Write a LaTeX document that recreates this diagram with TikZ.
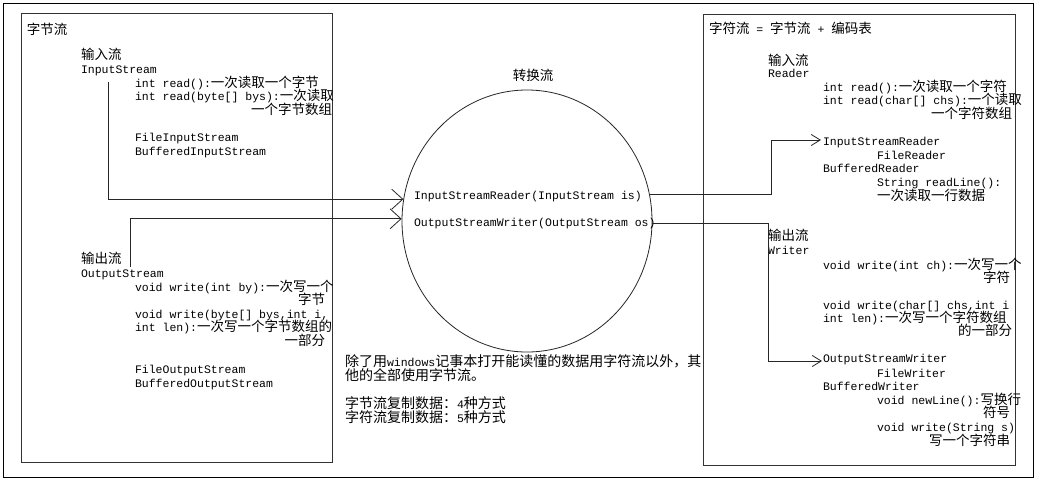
\documentclass[tikz,border=0pt]{standalone}
\usepackage{fontspec}
\setmainfont{Liberation Mono}
\newfontfamily\zhfont{Noto Sans CJK SC}
\usetikzlibrary{shapes.geometric,arrows.meta}
\newcommand\zhs[1]{{\zhfont\fontsize{13.5}{13.5}\selectfont #1}}
\newcommand\zhb[1]{{\zhfont\fontsize{14}{14}\selectfont #1}}
\tikzset{
  tl/.style={anchor=base west, inner sep=0pt, outer sep=0pt},
  tr/.style={anchor=base east, inner sep=0pt, outer sep=0pt},
  box/.style={draw=black!80, line width=0.8pt, anchor=north west, inner sep=0pt},
  conn/.style={draw=black!85, line width=0.8pt, -{Straight Barb[length=11pt,width=20pt,line width=0.8pt]}},
  connR/.style={draw=black!85, line width=0.8pt, -{Straight Barb[length=9pt,width=11pt,line width=0.8pt]}}
}
\begin{document}
\begin{tikzpicture}[x=1pt,y=-1pt,font=\fontsize{11.5}{13.5}\selectfont]
\useasboundingbox (0,0) rectangle (1037,482);
\fill[white] (0,0) rectangle (1037,482);
\draw[line width=1pt] (3,3) rectangle (1033,477);
% boxes
\node[box, minimum width=311pt, minimum height=449pt] (bytebox) at (21,13) {};
\node[box, minimum width=312pt, minimum height=451pt] (charbox) at (703,14) {};
\node[ellipse, draw=black!85, line width=0.8pt, minimum width=250pt, minimum height=262pt, inner sep=0pt] (conv) at (527,221) {};
% left box texts
\node[tl] (bt) at (27,34) {\zhs{字节流}};
\node[tl] (bin) at (81,59) {\zhs{输入流}};
\node[tl] (bis) at (81,73) {InputStream};
\node[tl] (br1) at (135,87) {int read():\zhs{一次读取一个字节}};
\node[tl] (br2) at (135,100.5) {int read(byte[] bys):\zhs{一次读取}};
\node[tr] (br3) at (332,114) {\zhs{一个字节数组}};
\node[tl] (bfis) at (135,141) {FileInputStream};
\node[tl] (bbis) at (135,155) {BufferedInputStream};
\node[tl] (bout) at (81,263) {\zhs{输出流}};
\node[tl] (bos) at (81,277) {OutputStream};
\node[tl] (bw1) at (135,291) {void write(int by):\zhs{一次写一个}};
\node[tr] (bw2) at (325,304.5) {\zhs{字节}};
\node[tl] (bw3) at (135,318) {void write(byte[] bys,int i,};
\node[tl] (bw4) at (135,331.5) {int len):\zhs{一次写一个字节数组的}};
\node[tr] (bw5) at (325,345) {\zhs{一部分}};
\node[tl] (bfos) at (135,373) {FileOutputStream};
\node[tl] (bbos) at (135,387) {BufferedOutputStream};
% center texts
\node[anchor=base, inner sep=0pt] (ct) at (533,80) {\zhs{转换流}};
\node[tl] (isr) at (414,199) {InputStreamReader(InputStream is)};
\node[tl] (osw) at (414,226) {OutputStreamWriter(OutputStream os)};
\node[tl] (n1) at (345,366) {\zhb{除了用}windows\zhb{记事本打开能读懂的数据用字符流以外，其}};
\node[tl] (n2) at (345,380) {\zhb{他的全部使用字节流。}};
\node[tl] (n3) at (345,408) {\zhb{字节流复制数据：}4\zhb{种方式}};
\node[tl] (n4) at (345,422) {\zhb{字符流复制数据：}5\zhb{种方式}};
% right box texts
\node[tl] (ct2) at (709,33) {\zhs{字符流} = \zhs{字节流} + \zhs{编码表}};
\node[tl] (rin) at (768,65) {\zhs{输入流}};
\node[tl] (rrd) at (768,77) {Reader};
\node[tl] (rr1) at (823,91) {int read():\zhs{一次读取一个字符}};
\node[tl] (rr2) at (823,104) {int read(char[] chs):\zhs{一个读取}};
\node[tr] (rr3) at (1012,118) {\zhs{一个字符数组}};
\node[tl] (risr) at (823,145) {InputStreamReader};
\node[tl] (rfr) at (877,159) {FileReader};
\node[tl] (rbr) at (823,172) {BufferedReader};
\node[tl] (rrl1) at (877,186) {String readLine():};
\node[tl] (rrl2) at (877,200) {\zhs{一次读取一行数据}};
\node[tl] (rout) at (768,240) {\zhs{输出流}};
\node[tl] (rwr) at (768,254) {Writer};
\node[tl] (rw1) at (823,269) {void write(int ch):\zhs{一次写一个}};
\node[tr] (rw2) at (1010,282) {\zhs{字符}};
\node[tl] (rw3) at (823,309) {void write(char[] chs,int i};
\node[tl] (rw4) at (823,322) {int len):\zhs{一次写一个字符数组}};
\node[tr] (rw5) at (1012,335) {\zhs{的一部分}};
\node[tl] (rosw) at (823,362) {OutputStreamWriter};
\node[tl] (rfw) at (877,377) {FileWriter};
\node[tl] (rbw) at (823,390) {BufferedWriter};
\node[tl] (rnl1) at (877,404) {void newLine():\zhs{写换行}};
\node[tr] (rnl2) at (1010,417) {\zhs{符号}};
\node[tl] (rws1) at (877,431) {void write(String s)};
\node[tr] (rws2) at (1010,445) {\zhs{写一个字符串}};
% connectors
\coordinate (inTop) at (108,82);
\coordinate (outBot) at (130,267);
\coordinate (rA) at (771,0);
\coordinate (rB) at (768,0);
\coordinate (risrT) at ([xshift=-2pt,yshift=5pt]risr.base west);
\coordinate (roswT) at ([xshift=-1pt,yshift=1pt]rosw.base west);
\draw[conn] (inTop) |- (conv.170.3);
\draw[conn] (outBot) |- (conv.179);
\draw[connR] (conv.12) -| (rA |- risrT) -- (risrT);
\draw[connR] (conv.-1.4) -| (rB |- roswT) -- (roswT);
\end{tikzpicture}
\end{document}
